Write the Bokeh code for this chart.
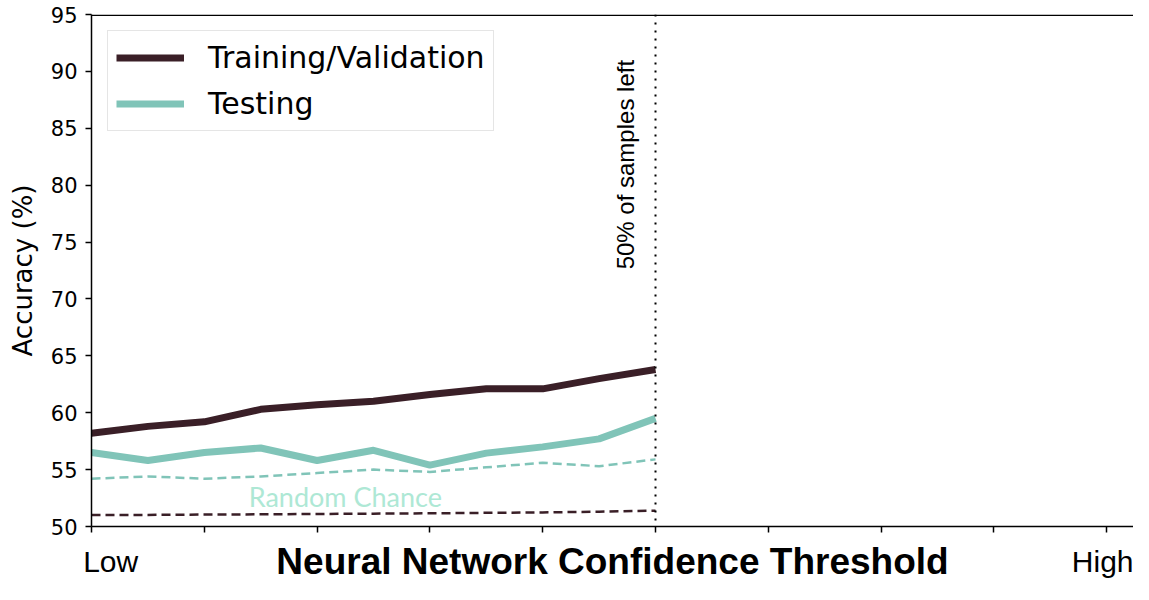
from bokeh.plotting import figure
from bokeh.models import (Span, Label, FixedTicker, Range1d, Legend, LegendItem,
                          CustomJSTickFormatter, LinearAxis)
from bokeh.embed import file_html
from bokeh.resources import INLINE

# ---- data ----
steps = [0, 1, 2, 3, 4, 5, 6, 7, 8, 9, 10]
train_acc = [58.2, 58.8, 59.2, 60.3, 60.7, 61.0, 61.6, 62.1, 62.1, 63.0, 63.8]
test_acc = [56.5, 55.8, 56.5, 56.9, 55.8, 56.7, 55.4, 56.45, 57.0, 57.7, 59.5]
test_chance = [54.2, 54.4, 54.2, 54.4, 54.7, 55.0, 54.8, 55.2, 55.6, 55.3, 55.9]
train_chance = [51.0, 51.02, 51.05, 51.07, 51.1, 51.13, 51.16, 51.2, 51.24, 51.3, 51.39]
x_ticks = [0, 2, 4, 6, 8, 10, 12, 14, 16, 18]
y_ticks = [50, 55, 60, 65, 70, 75, 80, 85, 90, 95]
half_mark = 10
end_labels = ["Low", "High"]
end_label_x = [0.34, 17.93]
x_title = "Neural Network Confidence Threshold"

DARK = "#3a1f27"
TEAL = "#80c4b8"
MINT = "#aee8d5"

p = figure(width=1133, height=584, output_backend="svg", toolbar_location=None,
           x_range=Range1d(0, 18.475), y_range=Range1d(50, 95),
           min_border_left=91, min_border_top=14, min_border_bottom=57, min_border_right=0)
p.outline_line_color = None
p.grid.visible = False

# main x axis: tick marks only + title
p.xaxis.ticker = FixedTicker(ticks=x_ticks)
p.xaxis.formatter = CustomJSTickFormatter(code="return ''")
p.xaxis.major_label_text_font_size = "1px"
p.xaxis.major_label_standoff = 0
p.xaxis.minor_tick_line_color = None
p.xaxis.major_tick_out = 6
p.xaxis.major_tick_in = 0
p.xaxis.axis_line_width = 1.5
p.xaxis.major_tick_line_width = 1.5
p.xaxis.axis_line_color = "black"
p.xaxis.major_tick_line_color = "black"
p.xaxis.axis_label = x_title
p.xaxis.axis_label_text_font = "Liberation Sans"
p.xaxis.axis_label_text_font_style = "bold"
p.xaxis.axis_label_text_font_size = "37px"
p.xaxis.axis_label_text_color = "black"
p.xaxis.axis_label_standoff = 8

# secondary x axis carrying the "Low" / "High" ends, lifted to the title row
lab_js = "const L = %s; const X = %s; let best = 0; for (let i = 0; i < X.length; i++) { if (Math.abs(X[i] - tick) < Math.abs(X[best] - tick)) best = i; } return L[best];" % (
    str(end_labels).replace("'", '"'), str(end_label_x))
ends = LinearAxis(ticker=FixedTicker(ticks=end_label_x),
                  formatter=CustomJSTickFormatter(code=lab_js),
                  axis_line_color=None, major_tick_line_color=None,
                  minor_tick_line_color=None, major_tick_out=0, major_tick_in=0,
                  major_label_text_font="Liberation Sans",
                  major_label_text_font_size="30px",
                  major_label_text_color="black",
                  major_label_standoff=-40)
p.add_layout(ends, "below")

p.yaxis.ticker = FixedTicker(ticks=y_ticks)
p.yaxis.minor_tick_line_color = None
p.yaxis.major_tick_out = 6
p.yaxis.major_tick_in = 0
p.yaxis.axis_line_width = 1.5
p.yaxis.major_tick_line_width = 1.5
p.yaxis.axis_line_color = "black"
p.yaxis.major_tick_line_color = "black"
p.yaxis.major_label_text_font = "DejaVu Sans"
p.yaxis.major_label_text_font_size = "21px"
p.yaxis.major_label_text_color = "black"
p.yaxis.major_label_standoff = 8
p.yaxis.axis_label = "Accuracy (%)"
p.yaxis.axis_label_text_font = "DejaVu Sans"
p.yaxis.axis_label_text_font_size = "26px"
p.yaxis.axis_label_text_font_style = "normal"
p.yaxis.axis_label_text_color = "black"
p.yaxis.axis_label_standoff = 10

# top spine
p.add_layout(Span(location=94.94, dimension="width", line_color="black", line_width=1.5))

# lines
r_train = p.line(steps, train_acc, line_color=DARK, line_width=7, line_join="round")
r_test = p.line(steps, test_acc, line_color=TEAL, line_width=7, line_join="round")
p.line(steps, test_chance, line_color=TEAL, line_width=2.5, line_dash="9 5")
p.line(steps, train_chance, line_color=DARK, line_width=2.5, line_dash="9 5")

# vertical dotted marker
p.add_layout(Span(location=half_mark, dimension="height", line_color="black",
                  line_width=2, line_dash="2 6"))
p.add_layout(Label(x=9.47, y=72.6, text="50% of samples left", angle=90, angle_units="deg",
                   text_font="Liberation Sans", text_font_size="24px", text_color="black",
                   text_align="left", text_baseline="alphabetic"))

p.add_layout(Label(x=4.5, y=52.6, text="Random Chance", text_font="Lato",
                   text_font_size="27px", text_color=MINT, text_align="center",
                   text_baseline="alphabetic"))

legend = Legend(items=[LegendItem(label="Training/Validation", renderers=[r_train]),
                       LegendItem(label="Testing", renderers=[r_test])],
                location="top_left")
legend.margin = 16
legend.padding = 8
legend.spacing = 9
legend.glyph_width = 68
legend.glyph_height = 37
legend.label_height = 37
legend.label_standoff = 24
legend.label_text_font = "DejaVu Sans"
legend.label_text_font_size = "30px"
legend.label_text_color = "black"
legend.border_line_color = "#cccccc"
legend.border_line_width = 1.5
legend.background_fill_alpha = 0.9
p.add_layout(legend)

open("out.html", "w").write(file_html(p, INLINE))
